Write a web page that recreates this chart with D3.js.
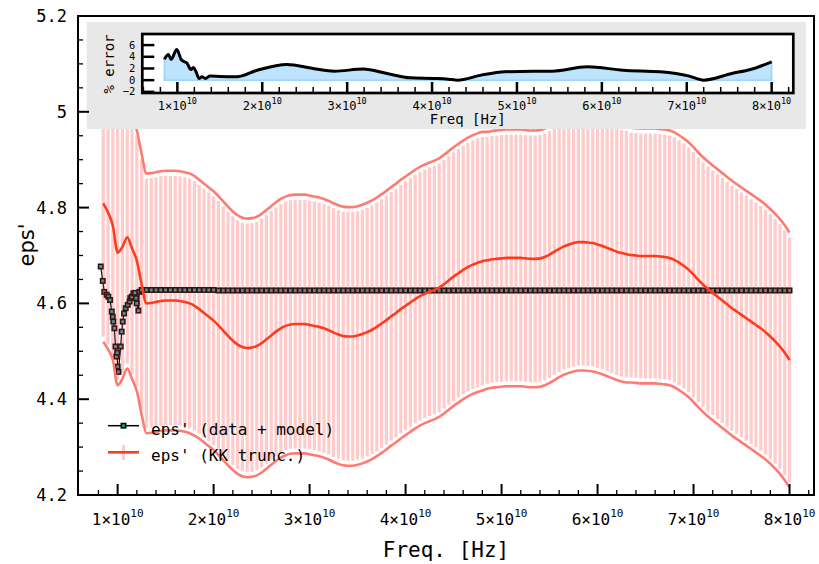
<!DOCTYPE html>
<html><head><meta charset="utf-8">
<script src="https://cdn.jsdelivr.net/npm/d3@7"></script>
<style>body{margin:0;background:#fff}svg{display:block}text{font-family:"DejaVu Sans Mono",monospace;fill:#000}</style>
</head><body><svg id="c" width="819" height="564"></svg>
<script>
// ---- data (frequencies in GHz) ----
const gridGHz = [
 8.5,9,9.5,10,10.5,11,11.5,12,12.5,13,
 13.5,14,14.5,15,15.5,16,16.5,17,17.5,18,
 18.5,19,19.5,20,20.5,21,21.5,22,22.5,23,
 23.5,24,24.5,25,25.5,26,26.5,27,27.5,28,
 28.5,29,29.5,30,30.5,31,31.5,32,32.5,33,
 33.5,34,34.5,35,35.5,36,36.5,37,37.5,38,
 38.5,39,39.5,40,40.5,41,41.5,42,42.5,43,
 43.5,44,44.5,45,45.5,46,46.5,47,47.5,48,
 48.5,49,49.5,50,50.5,51,51.5,52,52.5,53,
 53.5,54,54.5,55,55.5,56,56.5,57,57.5,58,
 58.5,59,59.5,60,60.5,61,61.5,62,62.5,63,
 63.5,64,64.5,65,65.5,66,66.5,67,67.5,68,
 68.5,69,69.5,70,70.5,71,71.5,72,72.5,73,
 73.5,74,74.5,75,75.5,76,76.5,77,77.5,78,
 78.5,79,79.5,80];
const kkCenter = [
 4.809,4.790,4.762,4.706,4.718,4.738,4.715,4.689,4.640,4.600,
 4.601,4.603,4.605,4.606,4.606,4.606,4.605,4.603,4.600,4.595,
 4.588,4.580,4.572,4.564,4.554,4.543,4.532,4.522,4.514,4.509,
 4.507,4.508,4.511,4.517,4.525,4.533,4.541,4.548,4.553,4.556,
 4.557,4.557,4.557,4.555,4.553,4.551,4.548,4.544,4.539,4.535,
 4.532,4.531,4.531,4.533,4.536,4.540,4.545,4.551,4.558,4.565,
 4.573,4.580,4.588,4.595,4.602,4.609,4.615,4.620,4.624,4.628,
 4.633,4.640,4.648,4.656,4.663,4.670,4.676,4.681,4.685,4.688,
 4.690,4.692,4.693,4.694,4.695,4.695,4.695,4.695,4.694,4.693,
 4.693,4.694,4.697,4.702,4.708,4.714,4.719,4.723,4.726,4.728,
 4.728,4.727,4.726,4.723,4.720,4.716,4.712,4.708,4.705,4.703,
 4.701,4.700,4.699,4.699,4.699,4.699,4.698,4.697,4.695,4.691,
 4.685,4.678,4.670,4.660,4.649,4.639,4.630,4.622,4.614,4.606,
 4.598,4.590,4.583,4.576,4.569,4.562,4.555,4.548,4.540,4.531,
 4.521,4.510,4.497,4.482];
const kkErr = [
 0.289,0.286,0.280,0.277,0.275,0.274,0.273,0.272,0.272,0.271,
 0.271,0.271,0.271,0.271,0.271,0.271,0.271,0.271,0.271,0.271,
 0.270,0.270,0.270,0.270,0.270,0.270,0.270,0.270,0.270,0.270,
 0.270,0.270,0.270,0.270,0.270,0.270,0.270,0.270,0.270,0.270,
 0.270,0.270,0.270,0.270,0.270,0.270,0.270,0.270,0.270,0.270,
 0.270,0.270,0.270,0.270,0.270,0.270,0.270,0.270,0.270,0.270,
 0.270,0.270,0.270,0.270,0.270,0.270,0.270,0.270,0.270,0.270,
 0.270,0.270,0.270,0.270,0.270,0.270,0.270,0.270,0.270,0.270,
 0.268,0.268,0.268,0.268,0.268,0.268,0.268,0.268,0.268,0.268,
 0.268,0.268,0.268,0.268,0.268,0.268,0.268,0.268,0.268,0.268,
 0.268,0.268,0.268,0.268,0.268,0.268,0.268,0.268,0.268,0.268,
 0.266,0.266,0.266,0.266,0.266,0.266,0.266,0.266,0.266,0.266,
 0.266,0.266,0.266,0.266,0.266,0.266,0.266,0.266,0.266,0.266,
 0.266,0.266,0.266,0.266,0.266,0.266,0.266,0.266,0.266,0.266,
 0.266,0.266,0.266,0.266];
const dataStartGHz = [8.24,8.45,8.61,8.86,9.03,9.21,9.39,9.49,9.55,9.66,
 9.78,9.86,9.95,10.00,10.08,10.32,10.42,10.53,10.67,10.84,
 11.05,11.25,11.32,11.47,11.64,11.81,11.92,11.99,12.16,12.26];
const dataStartVal = [4.677,4.647,4.624,4.618,4.614,4.607,4.583,4.572,4.562,4.548,
 4.510,4.489,4.497,4.468,4.457,4.510,4.541,4.562,4.579,4.590,
 4.597,4.604,4.611,4.614,4.621,4.622,4.611,4.600,4.585,4.624];
// flat part of the data, on gridGHz from 12.5 GHz onward
const dataFlatVal = [
 4.628,4.628,4.628,4.628,4.628,4.628,4.628,4.628,4.628,4.628,
 4.628,4.628,4.628,4.628,4.628,4.628,4.627,4.627,4.627,4.627,
 4.627,4.627,4.627,4.627,4.627,4.627,4.627,4.627,4.627,4.627,
 4.627,4.627,4.627,4.627,4.627,4.627,4.627,4.627,4.627,4.627,
 4.627,4.627,4.627,4.627,4.627,4.627,4.627,4.627,4.627,4.627,
 4.627,4.627,4.627,4.627,4.627,4.627,4.627,4.627,4.627,4.627,
 4.627,4.627,4.627,4.627,4.627,4.627,4.627,4.627,4.627,4.627,
 4.627,4.627,4.627,4.627,4.627,4.627,4.627,4.627,4.627,4.627,
 4.627,4.627,4.627,4.627,4.627,4.627,4.627,4.627,4.627,4.627,
 4.627,4.627,4.627,4.627,4.627,4.627,4.627,4.627,4.627,4.627,
 4.627,4.627,4.627,4.627,4.627,4.627,4.627,4.627,4.627,4.627,
 4.627,4.627,4.627,4.627,4.627,4.627,4.627,4.627,4.627,4.627,
 4.627,4.627,4.627,4.627,4.627,4.627,4.627,4.627,4.627,4.627,
 4.627,4.627,4.627,4.627,4.627,4.627];
// inset: percent error
const errGHz = [8.47,8.94,9.26,9.93,10.44,10.83,11.1,11.6,11.9,12.2,12.56,12.9,13.3,13.86,
 15.0,17.0,19.4,22.9,26.0,28.5,31.9,34.7,37.4,40.2,41.9,43.0,45.8,48.6,51.9,54.1,58.3,62.5,66.9,70.3,72.0,75.3,77.5,80.0];
const errPct = [3.55,4.4,3.55,5.26,3.55,3.14,2.97,1.83,2.17,1.43,0.29,0.57,0.29,0.69,
 0.62,0.57,1.7,2.7,2.0,1.54,1.89,1.14,0.4,0.29,0.17,0.0,0.86,1.43,1.54,1.54,2.29,1.7,1.43,0.69,0.0,1.14,1.83,3.14];

const xTickVals = [1,2,3,4,5,6,7,8];          // ×10^10 Hz
const yTickVals = [4.2,4.4,4.6,4.8,5.0,5.2];
const yTickLabels = ["4.2","4.4","4.6","4.8","5","5.2"];
const inYTickVals = [-2,0,2,4,6];
const inYTickLabels = ["\u22122","0","2","4","6"];
const legendLabels = ["eps' (data + model)","eps' (KK trunc.)"];

// ---- main chart ----
const svg = d3.select("#c");
const M = {l:78, r:814, t:16, b:495};
const x = d3.scaleLinear().domain([5.87e9, 8.255e10]).range([M.l, M.r]);
const y = d3.scaleLinear().domain([4.2, 5.2]).range([M.b, M.t]);

svg.append("clipPath").attr("id","clip").append("rect")
  .attr("x",M.l).attr("y",M.t).attr("width",M.r-M.l).attr("height",M.b-M.t);
const plot = svg.append("g").attr("clip-path","url(#clip)");

const data = dataStartGHz.map((f,i)=>({f:f*1e9, v:dataStartVal[i]}))
  .concat(gridGHz.slice(8).map((f,i)=>({f:f*1e9, v:dataFlatVal[i]})));
const kk = gridGHz.map((f,i)=>({f:f*1e9, c:kkCenter[i], e:kkErr[i]}));

// data line + markers
plot.append("path").datum(data)
  .attr("d", d3.line().x(d=>x(d.f)).y(d=>y(d.v)))
  .attr("fill","none").attr("stroke","#111").attr("stroke-width",1.2);
plot.selectAll("rect.mk").data(data).join("rect").attr("class","mk")
  .attr("x",d=>x(d.f)-2.2).attr("y",d=>y(d.v)-2.2).attr("width",4.4).attr("height",4.4)
  .attr("fill","#40a8a8").attr("stroke","#1a1a1a").attr("stroke-width",1.6);

// KK error bars
plot.selectAll("line.eb").data(kk).join("line").attr("class","eb")
  .attr("x1",d=>x(d.f)).attr("x2",d=>x(d.f))
  .attr("y1",d=>y(d.c+d.e)+5).attr("y2",d=>y(d.c-d.e)-5)
  .attr("stroke","rgba(255,0,0,0.2)").attr("stroke-width",3.3);
// bounds
[1,-1].forEach(s=>{
  plot.append("path").datum(kk)
    .attr("d", d3.line().x(d=>x(d.f)).y(d=>y(d.c+s*d.e)).curve(d3.curveMonotoneX))
    .attr("fill","none").attr("stroke","#ff7b72").attr("stroke-width",2.6);
});
plot.append("path").datum(kk)
  .attr("d", d3.line().x(d=>x(d.f)).y(d=>y(d.c)).curve(d3.curveMonotoneX))
  .attr("fill","none").attr("stroke","#ff3b1f").attr("stroke-width",2.6);

// ---- inset ----
const I = {l:142.3, r:793.3, t:34, b:93};
svg.append("rect").attr("x",86.7).attr("y",22).attr("width",806-86.7).attr("height",129-22).attr("fill","#e8e8e8");
svg.append("rect").attr("x",I.l).attr("y",I.t).attr("width",I.r-I.l).attr("height",I.b-I.t).attr("fill","#fff");
const xi = d3.scaleLinear().domain([5.87e9, 8.255e10]).range([I.l, I.r]);
const yi = d3.scaleLinear().domain([-2.2, 7.9]).range([I.b, I.t]);
const err = errGHz.map((f,i)=>({f:f*1e9, p:errPct[i]}));
svg.append("path").datum(err)
  .attr("d", d3.area().x(d=>xi(d.f)).y0(yi(0)).y1(d=>yi(d.p)).curve(d3.curveMonotoneX))
  .attr("fill","rgba(135,206,250,0.55)").attr("stroke","rgba(135,206,250,0.8)").attr("stroke-width",1.5);
svg.append("path").datum(err)
  .attr("d", d3.line().x(d=>xi(d.f)).y(d=>yi(d.p)).curve(d3.curveMonotoneX))
  .attr("fill","none").attr("stroke","#000").attr("stroke-width",3).attr("stroke-linejoin","round");
// inset ticks
const gi = svg.append("g").attr("stroke","#000");
for (let v=6e9; v<=8.2e10; v+=2e9) {
  const major = Math.abs(v/1e10 - Math.round(v/1e10))<1e-6;
  gi.append("line").attr("x1",xi(v)).attr("x2",xi(v)).attr("y1",I.b).attr("y2",I.b-(major?11:6))
    .attr("stroke-width",major?2.5:1.5);
}
inYTickVals.forEach(v=>{
  gi.append("line").attr("x1",I.l).attr("x2",I.l+12).attr("y1",yi(v)).attr("y2",yi(v)).attr("stroke-width",2.5);
});
svg.append("rect").attr("x",I.l).attr("y",I.t).attr("width",I.r-I.l).attr("height",I.b-I.t)
  .attr("fill","none").attr("stroke","#000").attr("stroke-width",2.7);
inYTickVals.forEach((v,i)=>{
  svg.append("text").attr("x",I.l-7).attr("y",yi(v)+3.6).attr("text-anchor","end")
    .attr("font-size",10.5).text(inYTickLabels[i]);
});
xTickVals.forEach(v=>{
  const t = svg.append("text").attr("x",xi(v*1e10)).attr("y",110).attr("text-anchor","middle").attr("font-size",12);
  t.append("tspan").text(v+"\u00d710");
  t.append("tspan").attr("dy",-6).attr("font-size",8.5).text("10");
});
svg.append("text").attr("x",(I.l+I.r)/2).attr("y",123.5).attr("text-anchor","middle").attr("font-size",14).text("Freq [Hz]");
svg.append("text").attr("transform","translate(114,64) rotate(-90)").attr("text-anchor","middle").attr("font-size",14).text("% error");

// ---- main frame, ticks ----
const ga = svg.append("g").attr("stroke","#000");
for (let v=8e9; v<=8.2e10; v+=2e9) {
  const major = Math.abs(v/1e10 - Math.round(v/1e10))<1e-6;
  ga.append("line").attr("x1",x(v)).attr("x2",x(v)).attr("y1",M.b).attr("y2",M.b-(major?11:5))
    .attr("stroke-width",major?2:1.3);
}
for (let k=0; k<=20; k++) {
  const v = 4.2 + k*0.05;
  const major = k%4===0;
  ga.append("line").attr("x1",M.l).attr("x2",M.l+(major?11:5)).attr("y1",y(v)).attr("y2",y(v))
    .attr("stroke-width",major?2:1.3);
}
svg.append("rect").attr("x",M.l).attr("y",M.t).attr("width",M.r-M.l).attr("height",M.b-M.t)
  .attr("fill","none").attr("stroke","#000").attr("stroke-width",2);
yTickVals.forEach((v,i)=>{
  svg.append("text").attr("x",67).attr("y",y(v)+6).attr("text-anchor","end").attr("font-size",17).text(yTickLabels[i]);
});
xTickVals.forEach(v=>{
  const t = svg.append("text").attr("x",x(v*1e10)).attr("y",525).attr("text-anchor","middle").attr("font-size",16);
  t.append("tspan").text(v+"\u00d710");
  t.append("tspan").attr("dy",-8).attr("font-size",11).text("10");
});
svg.append("text").attr("x",(M.l+M.r)/2).attr("y",557).attr("text-anchor","middle").attr("font-size",21).text("Freq. [Hz]");
svg.append("text").attr("transform","translate(34,245) rotate(-90)").attr("text-anchor","middle")
  .attr("font-size",21).style("font-family","'DejaVu Sans'").text("eps'");

// ---- legend ----
const lg = svg.append("g");
lg.append("line").attr("x1",108).attr("x2",139).attr("y1",425.7).attr("y2",425.7).attr("stroke","#000").attr("stroke-width",1.5);
lg.append("rect").attr("x",121.3).attr("y",423.5).attr("width",4.4).attr("height",4.4).attr("fill","#1a9a6a").attr("stroke","#000").attr("stroke-width",1.5);
lg.append("line").attr("x1",123.5).attr("x2",123.5).attr("y1",445).attr("y2",460).attr("stroke","rgba(255,0,0,0.2)").attr("stroke-width",3);
lg.append("line").attr("x1",108).attr("x2",139).attr("y1",452.3).attr("y2",452.3).attr("stroke","#ff3b1f").attr("stroke-width",2.6);
lg.append("text").attr("x",151).attr("y",435).attr("font-size",16).text(legendLabels[0]);
lg.append("text").attr("x",151).attr("y",461).attr("font-size",16).text(legendLabels[1]);
</script></body></html>
